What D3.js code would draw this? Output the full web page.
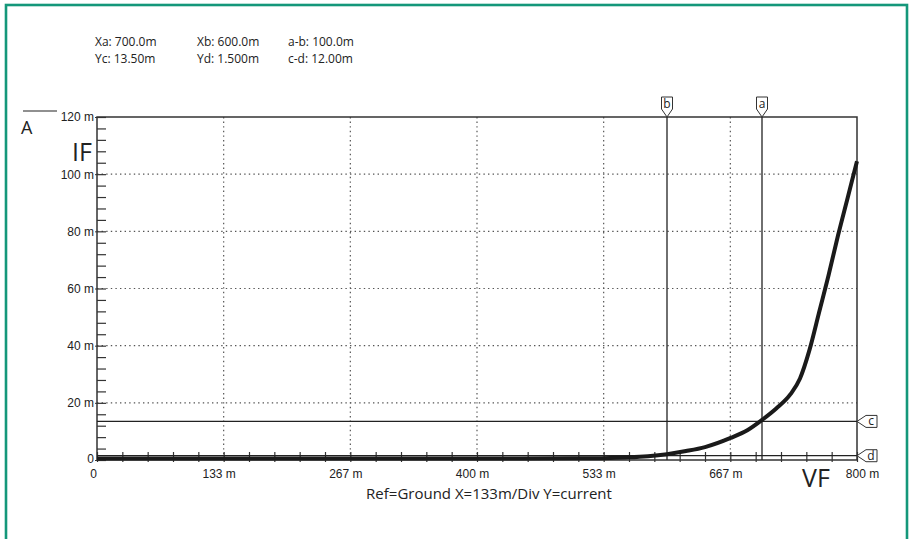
<!DOCTYPE html>
<html lang="en">
<head>
    <meta charset="UTF-8">
    <title>Diode IF vs VF</title>
    <style>
        body { margin: 0; background: #fff; }
        svg { display: block; font-family: "Open Sans", "DejaVu Sans", sans-serif; }
        .tick text { font-size: 12px; fill: #222; }
        .grid line { stroke: #555; stroke-dasharray: 1.4,3.2; stroke-width: 1.2; }
        .cursor { stroke: #222; stroke-width: 1.3; }
        .flag { fill: #fff; stroke: #333; stroke-width: 1; }
        .flag-text { font-size: 12px; fill: #222; text-anchor: middle; }
        .readout { font-size: 12px; fill: #222; }
    </style>
</head>
<body>
    <svg id="chart" width="912" height="539"></svg>

    <script src="https://d3js.org/d3.v7.min.js"></script>
    <script>
        // curve data (VF in mV, IF in mA)
        const vfValues = [0, 100, 200, 300, 400, 500, 540, 560, 580, 600, 620, 640, 667, 685, 700, 715, 730, 740, 750, 760, 770, 780, 790, 800];
        const ifValues = [0, 0, 0, 0, 0, 0.05, 0.2, 0.4, 0.8, 1.5, 2.6, 4.0, 7.2, 10.0, 13.5, 17.5, 22.5, 28, 38, 51, 64, 78, 91, 104];

        // axes
        const xTicks = [0, 133.33, 266.67, 400, 533.33, 666.67, 800];
        const xTickLabels = ["0", "133 m", "267 m", "400 m", "533 m", "667 m", "800 m"];
        const yTicks = [0, 20, 40, 60, 80, 100, 120];
        const yTickLabels = ["0", "20 m", "40 m", "60 m", "80 m", "100 m", "120 m"];

        // cursors
        const vCursors = [{ name: "b", value: 600 }, { name: "a", value: 700 }];
        const hCursors = [{ name: "c", value: 13.5 }, { name: "d", value: 1.5 }];

        const readouts = [
            ["Xa: 700.0m", "Yc: 13.50m"],
            ["Xb: 600.0m", "Yd: 1.500m"],
            ["a-b: 100.0m", "c-d: 12.00m"]
        ];

        const svg = d3.select("#chart");
        const pLeft = 97, pRight = 857, pTop = 117, pBottom = 460;

        // green frame
        svg.append("rect")
            .attr("x", 6).attr("y", 5)
            .attr("width", 901).attr("height", 600)
            .attr("fill", "none")
            .attr("stroke", "#14977a")
            .attr("stroke-width", 2.6);

        const x = d3.scaleLinear().domain([0, 800]).range([pLeft, pRight]);
        const y = d3.scaleLinear().domain([0, 120]).range([pBottom, pTop]);

        // grid
        svg.append("g").attr("class", "grid")
            .selectAll("line").data(xTicks.slice(1, -1)).enter().append("line")
            .attr("x1", d => x(d)).attr("x2", d => x(d))
            .attr("y1", pTop).attr("y2", pBottom);
        svg.append("g").attr("class", "grid")
            .selectAll("line").data(yTicks.slice(1, -1)).enter().append("line")
            .attr("x1", pLeft).attr("x2", pRight)
            .attr("y1", d => y(d)).attr("y2", d => y(d));

        // minor ticks
        const yMinor = d3.range(0, 120.01, 4);
        const xMinor = d3.range(0, 800.01, 800 / 30);
        svg.append("g")
            .attr("transform", `translate(${pLeft},0)`)
            .call(d3.axisLeft(y).tickValues(yMinor).tickSize(-9).tickFormat(""))
            .call(g => g.select(".domain").remove())
            .selectAll("line").attr("stroke", "#333").attr("stroke-width", 1.2);
        svg.append("g")
            .attr("transform", `translate(0,${pBottom + 2})`)
            .call(d3.axisBottom(x).tickValues(xMinor).tickSize(-10).tickFormat(""))
            .call(g => g.select(".domain").remove())
            .selectAll("line").attr("stroke", "#333").attr("stroke-width", 1.2);

        // major labels
        svg.append("g")
            .attr("transform", `translate(${pLeft},0)`)
            .call(d3.axisLeft(y).tickValues(yTicks).tickSize(2).tickPadding(1)
                .tickFormat((d, i) => yTickLabels[i]))
            .call(g => g.select(".domain").remove())
            .call(g => g.selectAll("text").attr("dy", (d, i) => i === 0 ? "0.2em" : "0.32em"))
            .selectAll("line").attr("stroke", "#333");
        svg.append("g")
            .attr("transform", `translate(0,${pBottom})`)
            .call(d3.axisBottom(x).tickValues(xTicks).tickSize(0).tickPadding(9)
                .tickFormat((d, i) => xTickLabels[i]))
            .call(g => g.select(".domain").remove())
            .selectAll("text").attr("dx", (d, i) => i === 0 ? -4 : (i === 6 ? 5 : -5));

        // frame of plot
        svg.append("path")
            .attr("d", `M${pLeft},${pBottom}V${pTop}H${pRight}V${pBottom}H${pLeft}`)
            .attr("fill", "none").attr("stroke", "#333").attr("stroke-width", 1.5);

        // cursors
        vCursors.forEach(c => {
            const cx = x(c.value);
            svg.append("line").attr("class", "cursor")
                .attr("x1", cx).attr("x2", cx).attr("y1", pTop).attr("y2", pBottom);
            svg.append("path").attr("class", "flag")
                .attr("d", `M${cx - 5.5},${pTop - 20}H${cx + 5.5}V${pTop - 8}L${cx},${pTop}L${cx - 5.5},${pTop - 8}Z`);
            svg.append("text").attr("class", "flag-text")
                .attr("x", cx).attr("y", pTop - 9).text(c.name);
        });
        hCursors.forEach(c => {
            const cy = y(c.value);
            svg.append("line").attr("class", "cursor")
                .attr("x1", pLeft).attr("x2", pRight).attr("y1", cy).attr("y2", cy);
            svg.append("path").attr("class", "flag")
                .attr("d", `M${pRight},${cy}L${pRight + 9},${cy - 6}H${pRight + 20}V${cy + 6}H${pRight + 9}Z`);
            svg.append("text").attr("class", "flag-text")
                .attr("x", pRight + 14).attr("y", cy + 4).text(c.name);
        });

        // curve
        const curveData = vfValues.map((v, i) => ({ vf: v, i: ifValues[i] }));
        svg.append("path")
            .datum(curveData)
            .attr("fill", "none")
            .attr("stroke", "#1a1a1a")
            .attr("stroke-width", 4)
            .attr("d", d3.line().x(d => x(d.vf)).y(d => y(d.i) - 1.5).curve(d3.curveMonotoneX));

        // readouts
        readouts.forEach((col, i) => {
            col.forEach((t, j) => {
                svg.append("text").attr("class", "readout")
                    .attr("x", [95, 197, 288][i]).attr("y", 46 + j * 17).text(t);
            });
        });

        // unit and axis names
        svg.append("line").attr("x1", 23).attr("x2", 57).attr("y1", 111).attr("y2", 111)
            .attr("stroke", "#222").attr("stroke-width", 1.2);
        svg.append("text").attr("x", 21).attr("y", 134)
            .style("font-size", "18px").attr("fill", "#222").text("A");
        svg.append("text").attr("x", 72).attr("y", 161)
            .style("font-size", "25px").attr("fill", "#222").text("IF");
        svg.append("text").attr("x", 802).attr("y", 487)
            .style("font-size", "25px").attr("fill", "#222").text("VF");
        svg.append("text").attr("x", 489).attr("y", 499)
            .attr("text-anchor", "middle")
            .style("font-size", "15px").attr("fill", "#222")
            .text("Ref=Ground X=133m/Div Y=current");
    </script>
</body>
</html>
